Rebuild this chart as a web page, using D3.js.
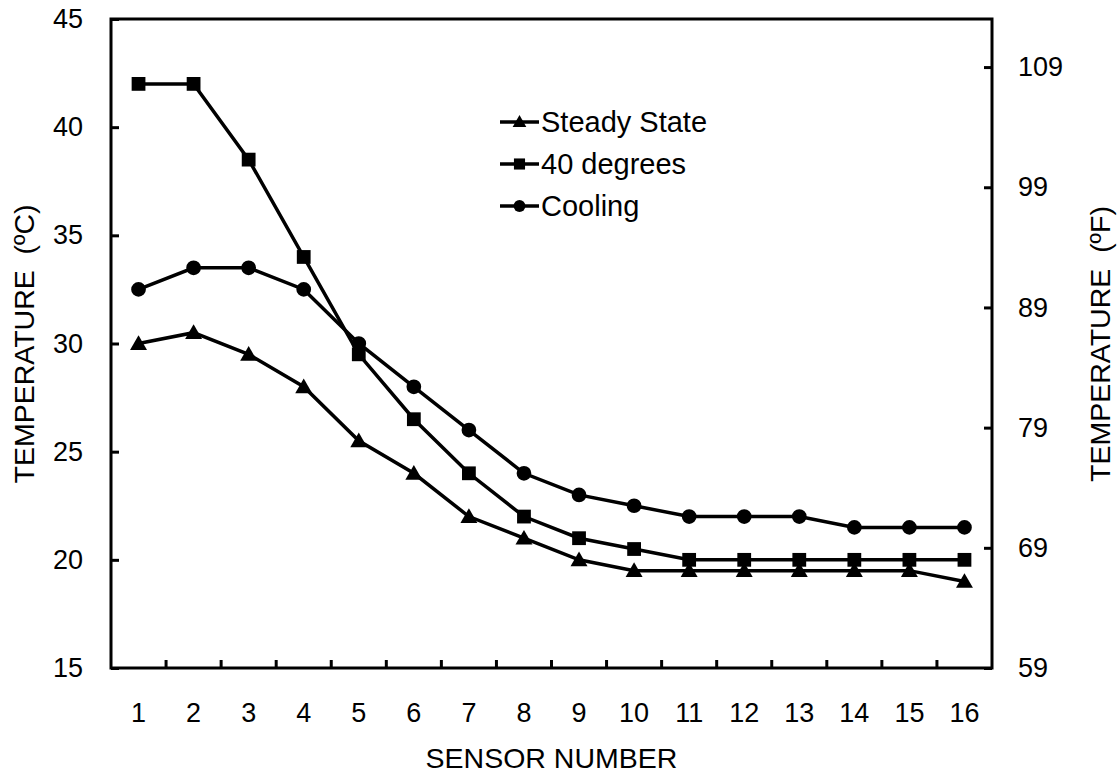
<!DOCTYPE html>
<html><head><meta charset="utf-8">
<script src="https://cdn.jsdelivr.net/npm/d3@7"></script>
<style>body{margin:0;background:#fff}svg{display:block}text{font-family:"Liberation Sans",Arial,sans-serif;fill:#000}</style>
</head><body><svg id="c" width="1117" height="771"></svg>
<script>
const sensors = [1,2,3,4,5,6,7,8,9,10,11,12,13,14,15,16];
const steadyState = [30,30.5,29.5,28,25.5,24,22,21,20,19.5,19.5,19.5,19.5,19.5,19.5,19];
const fortyDegrees = [42,42,38.5,34,29.5,26.5,24,22,21,20.5,20,20,20,20,20,20];
const cooling = [32.5,33.5,33.5,32.5,30,28,26,24,23,22.5,22,22,22,21.5,21.5,21.5];
const seriesNames = ["Steady State","40 degrees","Cooling"];
const cTicks = [15,20,25,30,35,40,45];
const fTicks = [59,69,79,89,99,109];

const L=111,R=992,T=19,B=668, FS=27, TFS=28.5, LFS=29;
const svg=d3.select("#c");
const x=d3.scaleBand().domain(sensors).range([L,R]);
const yC=d3.scaleLinear().domain([15,45]).range([B,T]);
const yF=d3.scaleLinear().domain([15*9/5+32,45*9/5+32]).range([B,T]);

const gl=svg.append("g").attr("transform",`translate(${L},0)`)
  .call(d3.axisLeft(yC).tickValues(cTicks).tickSizeInner(-8).tickSizeOuter(0).tickPadding(28));
gl.select(".domain").remove();
const gr=svg.append("g").attr("transform",`translate(${R},0)`)
  .call(d3.axisRight(yF).tickValues(fTicks).tickSizeInner(-8).tickSizeOuter(0).tickPadding(26));
gr.select(".domain").remove();
const gb=svg.append("g").attr("transform",`translate(0,${B})`)
  .call(d3.axisBottom(x).tickSize(0).tickPadding(35));
gb.select(".domain").remove();
svg.append("g").selectAll("line").data(sensors.slice(1)).join("line")
  .attr("x1",d=>x(d)).attr("x2",d=>x(d)).attr("y1",B).attr("y2",B-8)
  .attr("stroke","#000").attr("stroke-width",3);
svg.selectAll(".tick line").attr("stroke","#000").attr("stroke-width",3);
svg.selectAll(".tick text").attr("font-size",FS).attr("font-family",'"Liberation Sans",Arial,sans-serif');
svg.append("rect").attr("x",L).attr("y",T).attr("width",R-L).attr("height",B-T)
  .attr("fill","none").attr("stroke","#000").attr("stroke-width",3);

svg.append("text").attr("x",(L+R)/2).attr("y",768).attr("text-anchor","middle").attr("font-size",TFS).text("SENSOR NUMBER");
svg.append("text").attr("transform","translate(24,344) rotate(-90)").attr("text-anchor","middle")
  .attr("dominant-baseline","central").attr("font-size",TFS).style("white-space","pre").text("TEMPERATURE  (ºC)");
svg.append("text").attr("transform","translate(1100,344) rotate(-90)").attr("text-anchor","middle")
  .attr("dominant-baseline","central").attr("font-size",TFS).style("white-space","pre").text("TEMPERATURE  (ºF)");

const cx=d=>x(d)+x.bandwidth()/2;
const data=[steadyState,fortyDegrees,cooling];
const shapes=[d3.symbolTriangle,d3.symbolSquare,d3.symbolCircle];
const sizes=[125,190,170];
const lg=d3.line().x((v,i)=>cx(sensors[i])).y(v=>yC(v));
data.forEach((vals,k)=>{
  svg.append("path").attr("d",lg(vals)).attr("fill","none").attr("stroke","#000").attr("stroke-width",3.5);
  svg.append("g").selectAll("path").data(vals).join("path")
    .attr("transform",(v,i)=>`translate(${cx(sensors[i])},${yC(v)+(k==0?1.5:0)})`)
    .attr("d",d3.symbol(shapes[k],sizes[k])).attr("fill","#000");
});

const legY=[122,164,206];
seriesNames.forEach((n,k)=>{
  const g=svg.append("g").attr("transform",`translate(500,${legY[k]})`);
  g.append("line").attr("x1",0).attr("x2",39).attr("stroke","#000").attr("stroke-width",3.5);
  g.append("path").attr("transform",`translate(19.5,${k==0?1:0})`).attr("d",d3.symbol(shapes[k],sizes[k]*0.65)).attr("fill","#000");
  g.append("text").attr("x",41).attr("dominant-baseline","central").attr("font-size",LFS).text(n);
});
</script></body></html>
